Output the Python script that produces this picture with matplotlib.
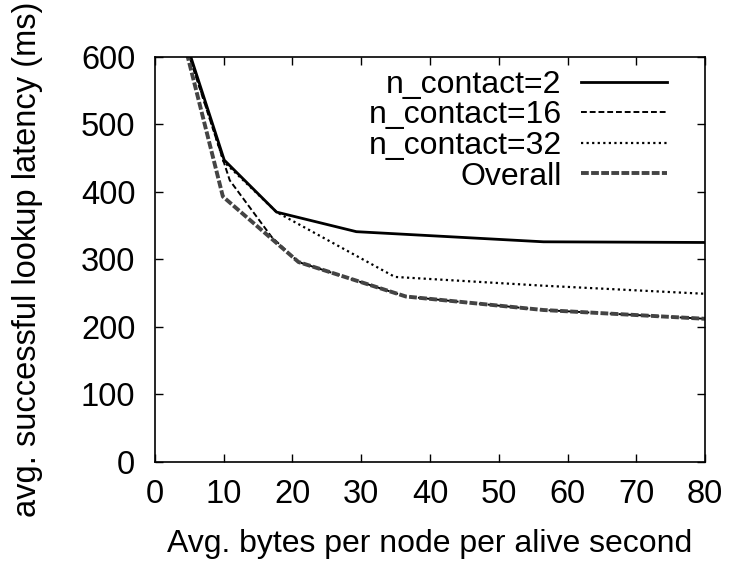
import matplotlib
matplotlib.use("Agg")
from matplotlib import pyplot as plt

plt.rcParams['font.family'] = ['Liberation Sans', 'DejaVu Sans']

# values
x_c2 = [4.6, 10.1, 17.7, 29.3, 56.5, 80]
y_c2 = [620, 447, 370, 341, 326, 325]

x_c16 = [4.4, 10.9, 17.0, 20.9, 36.5, 56.5, 80]
y_c16 = [620, 417, 333, 296, 245, 225, 212]

x_c32 = [4.5, 10.0, 17.7, 34.9, 56.5, 80]
y_c32 = [620, 445, 370, 274, 261, 249]

x_all = [4.3, 9.9, 20.9, 36.5, 56.5, 80]
y_all = [620, 393, 296, 245, 225, 212]

xticks = [0, 10, 20, 30, 40, 50, 60, 70, 80]
yticks = [0, 100, 200, 300, 400, 500, 600]

fig = plt.figure(figsize=(7.3, 5.62), dpi=100)
ax = fig.add_axes([0.212, 0.178, 0.754, 0.721])

ax.plot(x_c2, y_c2, color='black', lw=2.0, ls='-', label='n_contact=2')
ax.plot(x_c16, y_c16, color='black', lw=1.4, ls=(0, (3, 1.5)), label='n_contact=16')
ax.plot(x_c32, y_c32, color='black', lw=1.6, ls=(0, (1, 1.5)), label='n_contact=32')
ax.plot(x_all, y_all, color='#444444', lw=2.8, ls=(0, (2, 0.6)), label='Overall')

ax.set_xlim(0, 80)
ax.set_ylim(0, 600)
ax.set_xticks(xticks)
ax.set_yticks(yticks)
ax.tick_params(direction='in', length=6, width=1, top=True, right=True,
               labelsize=23.5)
ax.tick_params(axis='x', pad=12)
ax.tick_params(axis='y', pad=14)
for s in ax.spines.values():
    s.set_linewidth(1.2)

ax.set_xlabel('Avg. bytes per node per alive second', fontsize=23, labelpad=14)
ax.set_ylabel('avg. successful lookup latency (ms)', fontsize=23.5, labelpad=27)

leg = ax.legend(loc='upper right', bbox_to_anchor=(0.931, 0.968), frameon=False,
                markerfirst=False, fontsize=23, handlelength=2.7,
                handletextpad=0.6, labelspacing=0.02, borderpad=0,
                borderaxespad=0)

fig.savefig('out.png', dpi=100)
